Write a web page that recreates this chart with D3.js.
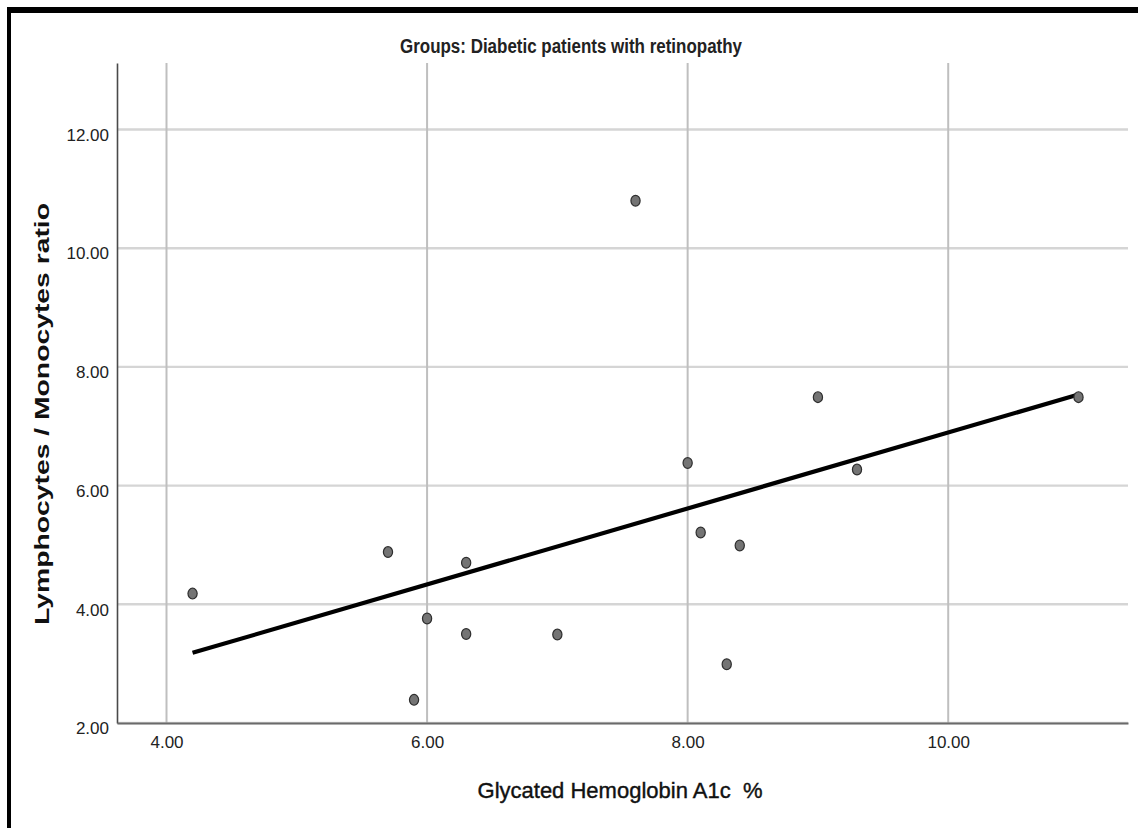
<!DOCTYPE html>
<html>
<head>
<meta charset="utf-8">
<script src="https://cdn.jsdelivr.net/npm/d3@7"></script>
<style>
  html, body { margin: 0; padding: 0; background: #fff; }
  svg { display: block; }
</style>
</head>
<body>
<svg id="chart" width="1138" height="828"></svg>
<script>
// Glycated haemoglobin (%) and lymphocyte/monocyte ratio, one entry per patient
const hba1c = [4.2, 5.7, 5.9, 6.0, 6.3, 6.3, 7.0, 7.6, 8.0, 8.1, 8.3, 8.4, 9.0, 9.3, 11.0];
const lmr   = [4.18, 4.88, 2.39, 3.76, 4.70, 3.50, 3.49, 10.80, 6.38, 5.21, 2.99, 4.99, 7.49, 6.27, 7.49];

const xTicks = [4, 6, 8, 10];
const yTicks = [2, 4, 6, 8, 10, 12];

const title  = "Groups: Diabetic patients with retinopathy";
const xTitle = "Glycated Hemoglobin A1c  %";
const yTitle = "Lymphocytes / Monocytes ratio";

const svg = d3.select("#chart");
const W = 1138, H = 828;

// frame around the figure (top and left edges)
svg.append("rect").attr("x", 7).attr("y", 7).attr("width", W - 7).attr("height", 6).attr("fill", "#000");
svg.append("rect").attr("x", 7).attr("y", 7).attr("width", 4).attr("height", H - 7).attr("fill", "#000");

const plot = { left: 117, right: 1128, top: 63, bottom: 723 };

const x = d3.scaleLinear().domain([3.62, 11.38]).range([plot.left, plot.right]);
const y = d3.scaleLinear().domain([2, 13.12]).range([plot.bottom, plot.top]);

// grid
svg.append("g")
  .selectAll("line").data(yTicks).join("line")
  .attr("x1", plot.left).attr("x2", plot.right)
  .attr("y1", d => y(d)).attr("y2", d => y(d))
  .attr("stroke", "#d5d5d5").attr("stroke-width", 2.4);

svg.append("g")
  .selectAll("line").data(xTicks).join("line")
  .attr("x1", d => x(d)).attr("x2", d => x(d))
  .attr("y1", plot.top).attr("y2", plot.bottom)
  .attr("stroke", "#bfbfbf").attr("stroke-width", 2);

// axes
const fmt = d3.format(".2f");
const yAxis = d3.axisLeft(y).tickValues(yTicks).tickSize(0).tickFormat(fmt);
const xAxis = d3.axisBottom(x).tickValues(xTicks).tickSize(0).tickFormat(fmt);

const narrow = "'Liberation Sans Narrow', 'Arial Narrow', sans-serif";

const gy = svg.append("g").attr("transform", `translate(${plot.left},0)`).call(yAxis);
gy.select(".domain").attr("stroke", "#4a4a4a").attr("stroke-width", 1.6);
gy.selectAll(".tick text")
  .attr("x", -8).attr("y", -2).attr("dy", "0.75em")
  .attr("font-family", narrow)
  .attr("font-size", 17).attr("fill", "#222");

const gx = svg.append("g").attr("transform", `translate(0,${plot.bottom})`).call(xAxis);
gx.select(".domain").attr("stroke", "#6a6a6a").attr("stroke-width", 2);
gx.selectAll(".tick text")
  .attr("y", 13).attr("dy", "0.71em")
  .attr("font-family", narrow)
  .attr("font-size", 17).attr("fill", "#222");

// least-squares fit line
const n = hba1c.length;
const mx = d3.mean(hba1c), my = d3.mean(lmr);
let sxy = 0, sxx = 0;
for (let i = 0; i < n; i++) {
  sxy += (hba1c[i] - mx) * (lmr[i] - my);
  sxx += (hba1c[i] - mx) ** 2;
}
const slope = sxy / sxx, intercept = my - slope * mx;
const [xmin, xmax] = d3.extent(hba1c);
svg.append("line")
  .attr("x1", x(xmin)).attr("y1", y(intercept + slope * xmin))
  .attr("x2", x(xmax)).attr("y2", y(intercept + slope * xmax))
  .attr("stroke", "#000").attr("stroke-width", 4.2).attr("stroke-linecap", "butt");

// points
svg.append("g")
  .selectAll("ellipse").data(hba1c.map((v, i) => [v, lmr[i]])).join("ellipse")
  .attr("cx", d => x(d[0])).attr("cy", d => y(d[1]))
  .attr("rx", 4.6).attr("ry", 5.4)
  .attr("fill", "#747474").attr("stroke", "#2e2e2e").attr("stroke-width", 1.2);

// titles
svg.append("text")
  .attr("x", 571).attr("y", 53).attr("text-anchor", "middle")
  .attr("font-family", narrow)
  .attr("font-weight", "bold").attr("font-size", 20).attr("fill", "#222")
  .attr("textLength", 342).attr("lengthAdjust", "spacingAndGlyphs")
  .text(title);

svg.append("text")
  .attr("x", 620).attr("y", 798).attr("text-anchor", "middle")
  .attr("font-family", "'Liberation Sans', Arial, sans-serif")
  .attr("font-size", 22).attr("fill", "#111")
  .attr("stroke", "#111").attr("stroke-width", 0.4)
  .attr("xml:space", "preserve").style("white-space", "pre")
  .text(xTitle);

svg.append("text")
  .attr("transform", "translate(49,414) rotate(-90)").attr("text-anchor", "middle")
  .attr("font-family", "'Liberation Sans', Arial, sans-serif")
  .attr("font-weight", "bold").attr("font-size", 21).attr("fill", "#111")
  .attr("textLength", 422).attr("lengthAdjust", "spacingAndGlyphs")
  .text(yTitle);
</script>
</body>
</html>
